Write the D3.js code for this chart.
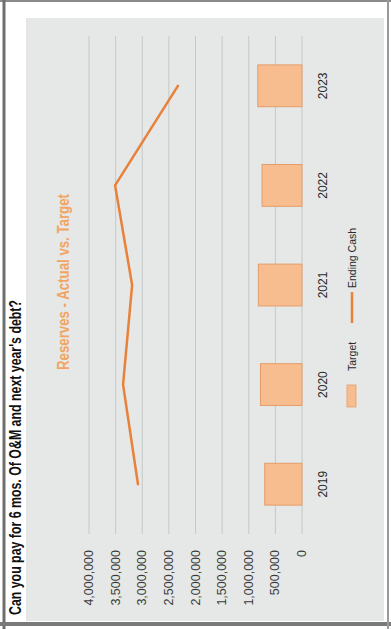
<!DOCTYPE html>
<html><head><meta charset="utf-8">
<script src="https://cdn.jsdelivr.net/npm/d3@7"></script>
<style>html,body{margin:0;padding:0;background:#fff;}svg{display:block}</style>
</head><body>
<svg id="c" width="391" height="629"></svg>
<script>
// Reserves: ending cash against the reserve target, per fiscal year
const years = ["2019", "2020", "2021", "2022", "2023"];
const target = [700000, 780000, 820000, 750000, 830000];
const endingCash = [3080000, 3360000, 3190000, 3510000, 2330000];
const valueTicks = [0, 500000, 1000000, 1500000, 2000000, 2500000, 3000000, 3500000, 4000000];
const seriesNames = ["Target", "Ending Cash"];
const pageTitle = "Can you pay for 6 mos. Of O&M and next year's debt?";
const chartTitle = "Reserves - Actual vs. Target";

const W = 391, H = 629;
const svg = d3.select("#c");

svg.append("rect").attr("width", W).attr("height", H).attr("fill", "#fff");
// chart area
svg.append("rect").attr("x", 28).attr("y", 18).attr("width", 356).attr("height", 603).attr("fill", "#e5e8e6");
svg.append("line").attr("x1", 27).attr("x2", 27).attr("y1", 18).attr("y2", 621).attr("stroke", "#c9cdcb").attr("stroke-width", 1);
// page frame
svg.append("line").attr("x1", 0).attr("x2", W).attr("y1", 1).attr("y2", 1).attr("stroke", "#8a8a8a").attr("stroke-width", 2);
svg.append("line").attr("x1", 4).attr("x2", 4).attr("y1", 0).attr("y2", H).attr("stroke", "#6f6f6f").attr("stroke-width", 3);
svg.append("line").attr("x1", 0).attr("x2", W).attr("y1", 624).attr("y2", 624).attr("stroke", "#7a7a7a").attr("stroke-width", 4);
svg.append("line").attr("x1", 388).attr("x2", 388).attr("y1", 0).attr("y2", H).attr("stroke", "#9a9a9a").attr("stroke-width", 2);

// the slide is laid out in landscape and turned a quarter turn
const g = svg.append("g").attr("transform", `translate(0,${H}) rotate(-90)`);

const x = d3.scaleBand().domain(years).range([95, 593]).paddingInner(0.58).paddingOuter(0.29);
const y = d3.scaleLinear().domain([0, 4000000]).range([302, 89]);
const fmt = d3.format(",");

// gridlines
g.append("g").selectAll("line").data(valueTicks).join("line")
  .attr("x1", 95).attr("x2", 593)
  .attr("y1", d => y(d)).attr("y2", d => y(d))
  .attr("stroke", "#c4c9c7").attr("stroke-width", 1);

// value axis labels
g.append("g").selectAll("text").data(valueTicks).join("text")
  .attr("x", 79).attr("y", d => y(d))
  .attr("text-anchor", "end").attr("dominant-baseline", "central")
  .attr("font-family", "Liberation Sans, Arial, sans-serif").attr("font-size", 12.5)
  .attr("fill", "#3a3a3a")
  .text(d => fmt(d));

// target columns
g.append("g").selectAll("rect").data(years).join("rect")
  .attr("x", d => x(d)).attr("width", x.bandwidth())
  .attr("y", (d, i) => y(target[i]))
  .attr("height", (d, i) => y(0) - y(target[i]))
  .attr("fill", "#f8bd8f").attr("stroke", "#e59d6a").attr("stroke-width", 1);

// ending cash line
const line = d3.line().x((d, i) => x(years[i]) + x.bandwidth() / 2).y(d => y(d));
g.append("path").datum(endingCash).attr("d", line)
  .attr("fill", "none").attr("stroke", "#e8813a").attr("stroke-width", 2.5)
  .attr("stroke-linejoin", "round").attr("stroke-linecap", "round");

// category labels
g.append("g").selectAll("text").data(years).join("text")
  .attr("x", d => x(d) + x.bandwidth() / 2).attr("y", 323)
  .attr("text-anchor", "middle").attr("dominant-baseline", "central")
  .attr("font-family", "Liberation Sans, Arial, sans-serif").attr("font-size", 12)
  .attr("fill", "#2a2a2a")
  .text(d => d);

// legend
const lg = g.append("g").attr("font-family", "Liberation Sans, Arial, sans-serif").attr("font-size", 10.5).attr("fill", "#2a2a2a");
lg.append("rect").attr("x", 222).attr("y", 347).attr("width", 22).attr("height", 9)
  .attr("fill", "#f8bd8f").attr("stroke", "#e59d6a").attr("stroke-width", 0.8);
lg.append("text").attr("x", 258).attr("y", 352).attr("dominant-baseline", "central").text(seriesNames[0]);
lg.append("line").attr("x1", 306).attr("x2", 337).attr("y1", 352).attr("y2", 352)
  .attr("stroke", "#e8813a").attr("stroke-width", 2.5);
lg.append("text").attr("x", 341).attr("y", 352).attr("dominant-baseline", "central").text(seriesNames[1]);

// chart title
g.append("text").attr("x", 259).attr("y", 69)
  .attr("font-family", "Liberation Sans, Arial, sans-serif").attr("font-size", 16).attr("font-weight", "bold")
  .attr("fill", "#f2a463")
  .attr("textLength", 176).attr("lengthAdjust", "spacingAndGlyphs")
  .text(chartTitle);

// page heading
g.append("text").attr("x", 14).attr("y", 21)
  .attr("font-family", "Liberation Sans, Arial, sans-serif").attr("font-size", 16).attr("font-weight", "bold")
  .attr("fill", "#111")
  .attr("textLength", 315).attr("lengthAdjust", "spacingAndGlyphs")
  .text(pageTitle);
</script>
</body></html>
